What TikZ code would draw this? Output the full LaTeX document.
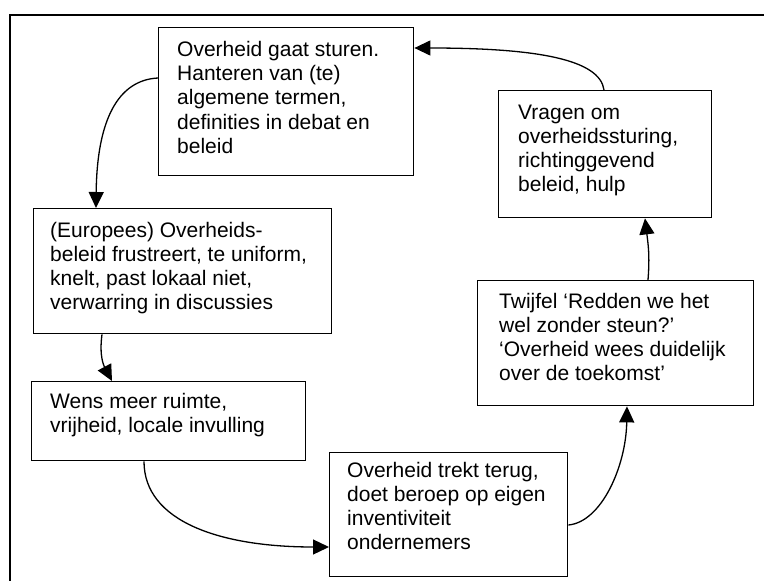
\documentclass[tikz,border=0pt]{standalone}
\usepackage{fontspec}
\setmainfont{Liberation Sans}
\usetikzlibrary{arrows.meta}
\newcommand\boxfont{\fontsize{21}{24.2}\selectfont}
\tikzset{
  box/.style={draw, line width=1.4pt, inner sep=0pt, anchor=north west},
  txt/.style={anchor=base west, inner sep=0pt, font=\boxfont, align=left},
  arr/.style={line width=1.3pt, -{Triangle[length=16pt,width=15pt]}},
  frame/.style={line width=1.4pt}
}
\begin{document}
\begin{tikzpicture}[x=1pt,y=-1pt]
\useasboundingbox (0,0) rectangle (764,581);
% outer frame (cut off at right and bottom)
\draw[frame] (764,15) -- (10,15) -- (10,581);
% boxes
\node[box, minimum width=255pt, minimum height=148pt] (b1) at (158,27) {};
\node[box, minimum width=213pt, minimum height=127pt] (b2) at (498,90) {};
\node[box, minimum width=298pt, minimum height=125pt] (b3) at (33,208) {};
\node[box, minimum width=274pt, minimum height=79pt]  (b4) at (31,381) {};
\node[box, minimum width=238pt, minimum height=124pt] (b5) at (329,452) {};
\node[box, minimum width=276pt, minimum height=125pt] (b6) at (477,280) {};
% texts
\node[txt] (t1) at ([shift={(19,29.5)}]b1.north west) {\parbox[t]{300pt}{\raggedright Overheid gaat sturen.\\Hanteren van (te)\\algemene termen,\\definities in debat en\\beleid}};
\node[txt] (t2) at ([shift={(20,29)}]b2.north west) {\parbox[t]{300pt}{\raggedright Vragen om\\overheidssturing,\\richtinggevend\\beleid, hulp}};
\node[txt] (t3) at ([shift={(17,29)}]b3.north west) {\parbox[t]{300pt}{\raggedright (Europees) Overheids-\\beleid frustreert, te uniform,\\knelt, past lokaal niet,\\verwarring in discussies}};
\node[txt] (t4) at ([shift={(19,27)}]b4.north west) {\parbox[t]{300pt}{\raggedright Wens meer ruimte,\\vrijheid, locale invulling}};
\node[txt] (t5) at ([shift={(18,25)}]b5.north west) {\parbox[t]{300pt}{\raggedright Overheid trekt terug,\\doet beroep op eigen\\inventiviteit\\ondernemers}};
\node[txt] (t6) at ([shift={(22,28)}]b6.north west) {\parbox[t]{300pt}{\raggedright Twijfel ‘Redden we het\\wel zonder steun?’\\‘Overheid wees duidelijk\\over de toekomst’}};
% connectors
\draw[arr] ([xshift=106pt]b2.north west) .. controls +(-4,-30) and +(125,0) .. ([yshift=-21pt]b1.north east);
\draw[arr] ([yshift=-51pt]b1.north west) .. controls +(-40,2) and +(1,-88) .. ([xshift=63pt]b3.north west);
\draw[arr] ([xshift=69pt]b3.south west) .. controls +(-3,22) and +(-8,-15) .. ([xshift=81pt]b4.north west);
\draw[arr] ([xshift=113pt]b4.south west) .. controls +(0,60) and +(-109,0) .. ([yshift=-95pt]b5.north west);
\draw[arr] ([yshift=-73pt]b5.north east) .. controls +(33,-3) and +(-1,60) .. ([xshift=150pt]b6.south west);
\draw[arr] ([xshift=171pt]b6.north west) .. controls +(2,-25) and +(3,25) .. ([xshift=147pt]b2.south west);
\end{tikzpicture}
\end{document}
